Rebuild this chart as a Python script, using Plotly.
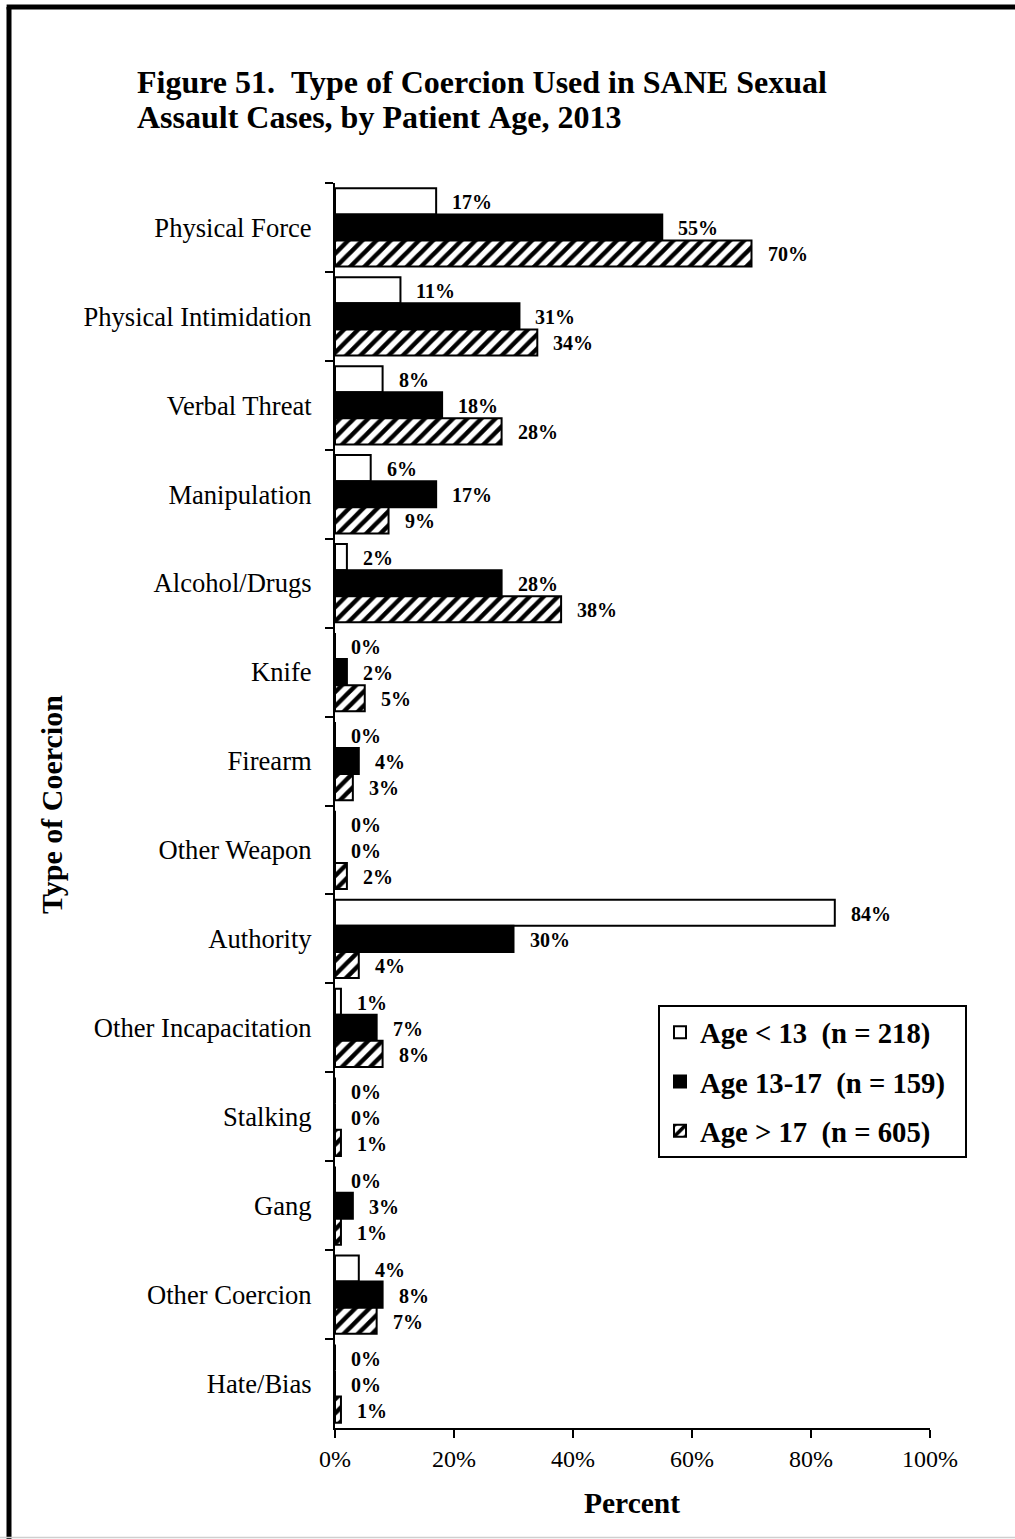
import plotly.graph_objects as go

# Coercion types, top to bottom
categories = [
    "Physical Force", "Physical Intimidation", "Verbal Threat", "Manipulation",
    "Alcohol/Drugs", "Knife", "Firearm", "Other Weapon", "Authority",
    "Other Incapacitation", "Stalking", "Gang", "Other Coercion", "Hate/Bias",
]

# Percent of cases in each age group
age_under_13 = [17, 11, 8, 6, 2, 0, 0, 0, 84, 1, 0, 0, 4, 0]
age_13_17 = [55, 31, 18, 17, 28, 2, 4, 0, 30, 7, 0, 3, 8, 0]
age_over_17 = [70, 34, 28, 9, 38, 5, 3, 2, 4, 8, 1, 1, 7, 1]

series_names = [
    "Age < 13  (n = 218)",
    "Age 13-17  (n = 159)",
    "Age > 17  (n = 605)",
]

x_ticks = [0, 20, 40, 60, 80, 100]
x_tick_text = [f"{v}%" for v in x_ticks]

title_lines = [
    "Figure 51.  Type of Coercion Used in SANE Sexual",
    "Assault Cases, by Patient Age, 2013",
]

SERIF = "Liberation Serif, Times New Roman, serif"

# Plot area in pixels, used to place page-level text and the frame
PX_L, PX_R, PX_T, PX_B = 335, 930, 183, 1428


def px_to_paper(px, py):
    return (px - PX_L) / (PX_R - PX_L), (PX_B - py) / (PX_B - PX_T)


def nb(s):
    return s.replace(" ", "\u00a0")


series = [age_under_13, age_13_17, age_over_17]
styles = [
    dict(color="white", line=dict(color="black", width=2)),
    dict(color="black", line=dict(color="black", width=2)),
    dict(color="white", line=dict(color="black", width=2),
         pattern=dict(shape="/", fgcolor="black", bgcolor="white",
                      size=10, solidity=0.45, fillmode="replace")),
]

fig = go.Figure()
for i, (vals, name, st) in enumerate(zip(series, series_names, styles)):
    fig.add_trace(go.Bar(
        y=categories, x=vals, orientation="h",
        name=f"<b>{nb(name)}</b>\u00a0\u00a0",
        marker=st, legendgroup=f"g{i}",
    ))

# Value labels beside each bar
annotations = []
for i, vals in enumerate(series):
    for cat, v in zip(categories, vals):
        annotations.append(dict(
            x=v, y=cat, xref="x", yref="y", text=f"<b>{v}%</b>",
            showarrow=False, xanchor="left", yanchor="middle",
            xshift=14, yshift=(1 - i) * 26 - 1,
            font=dict(family=SERIF, size=20, color="black"),
        ))

# Two-line figure title
for line, cy in zip(title_lines, [82, 117]):
    tx, ty = px_to_paper(135, cy)
    annotations.append(dict(
        x=tx, y=ty, xref="paper", yref="paper", text=f"<b>{nb(line)}</b>",
        showarrow=False, xanchor="left", yanchor="middle",
        font=dict(family=SERIF, size=32, color="black"),
    ))

# Vertical axis title
yx, yy = px_to_paper(52, 805)
annotations.append(dict(
    x=yx, y=yy, xref="paper", yref="paper",
    text="<b>Type of Coercion</b>", textangle=-90, showarrow=False,
    xanchor="center", yanchor="middle",
    font=dict(family=SERIF, size=30, color="black"),
))

# Horizontal axis title
px_, py_ = px_to_paper(632, 1503)
annotations.append(dict(
    x=px_, y=py_, xref="paper", yref="paper",
    text="<b>Percent</b>", showarrow=False,
    xanchor="center", yanchor="middle",
    font=dict(family=SERIF, size=29.5, color="black"),
))

# Page frame (left and top edges) and faint bottom edge
fl, ft = px_to_paper(9, 7)
fr, fb = px_to_paper(1030, 1560)
_, gb = px_to_paper(0, 1537.5)
gl, _ = px_to_paper(-5, 0)
shapes = [
    dict(type="line", xref="paper", yref="paper", x0=fl, x1=fl,
         y0=ft, y1=fb, line=dict(color="black", width=5)),
    dict(type="line", xref="paper", yref="paper", x0=fl - 0.004, x1=fr,
         y0=ft, y1=ft, line=dict(color="black", width=5)),
    dict(type="line", xref="paper", yref="paper", x0=gl, x1=fr,
         y0=gb, y1=gb, line=dict(color="#cfcfcf", width=1.5)),
]

lx, ly = px_to_paper(658, 1005)

fig.update_layout(
    width=1015, height=1539,
    margin=dict(l=PX_L, r=1015 - PX_R, t=PX_T, b=1539 - PX_B),
    paper_bgcolor="white", plot_bgcolor="white",
    barmode="group", bargap=0.12, bargroupgap=0,
    font=dict(family=SERIF, color="black"),
    xaxis=dict(
        range=[0, 100], tickvals=x_ticks, ticktext=x_tick_text,
        showgrid=False, zeroline=False,
        showline=True, linecolor="black", linewidth=2,
        ticks="outside", ticklen=8, tickwidth=2, tickcolor="black",
        tickfont=dict(family=SERIF, size=24, color="black"),
    ),
    yaxis=dict(
        autorange="reversed", showgrid=False, zeroline=False,
        showline=True, linecolor="black", linewidth=2,
        ticks="outside", ticklen=8, tickwidth=2, tickcolor="black",
        tickson="boundaries", ticklabelstandoff=16,
        tickfont=dict(family=SERIF, size=26.6, color="black"),
    ),
    legend=dict(
        x=lx, y=ly, xanchor="left", yanchor="top",
        bgcolor="white", bordercolor="black", borderwidth=2,
        font=dict(family=SERIF, size=28.7, color="black"),
        tracegroupgap=9, traceorder="grouped",
        itemwidth=30,
    ),
    annotations=annotations,
    shapes=shapes,
    showlegend=True,
)

fig.write_html("out.html")
